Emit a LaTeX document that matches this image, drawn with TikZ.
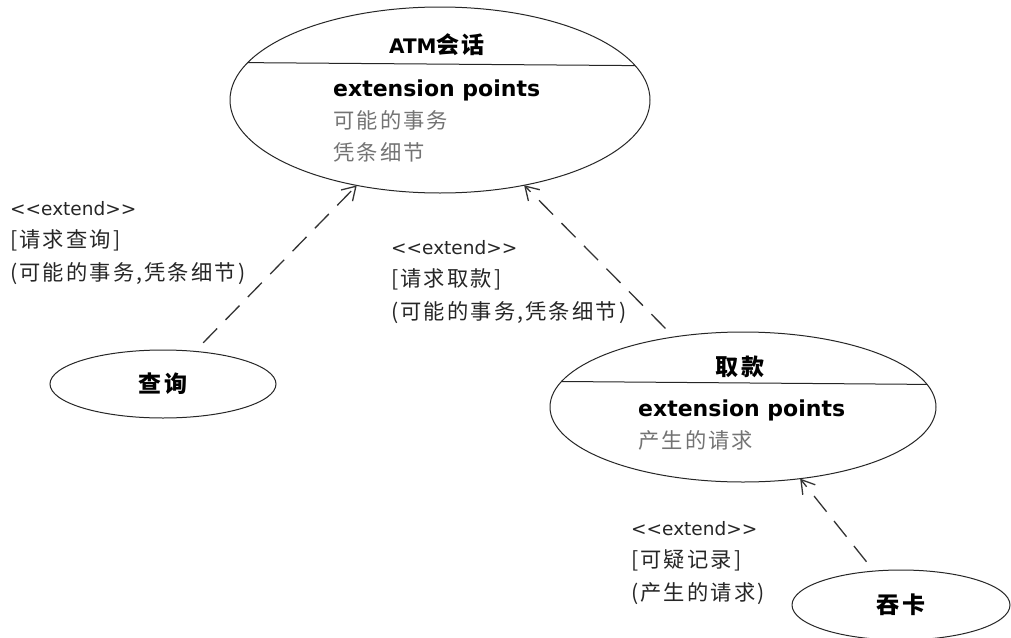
\documentclass[tikz,border=0pt]{standalone}
\usepackage{fontspec}
\usetikzlibrary{arrows.meta,shapes.geometric}
\newfontfamily\latin{DejaVu Sans}
\newfontfamily\cjk{Noto Sans CJK SC}[LetterSpace=10,Scale=1.15]
\newcommand{\zh}[1]{{\cjk #1}}

\begin{document}
\begin{tikzpicture}[x=1pt,y=-1pt,
  usecase/.style={draw=black!85,line width=1pt,ellipse,inner sep=0pt,outer sep=0pt,
    font=\latin\fontsize{20}{24}\selectfont\bfseries},
  title/.style={font=\latin\fontsize{20}{24}\selectfont\bfseries},
  compartment/.style={align=left,anchor=north west,inner sep=0pt,
    font=\latin\fontsize{18.5}{32}\selectfont,text=black!55},
  extendlabel/.style={align=left,anchor=north west,inner sep=0pt,
    font=\latin\fontsize{18.5}{32.5}\selectfont,text=black!85},
  extendline/.style={draw=black!80,line width=1.3pt,dash pattern=on 20pt off 12pt,dash phase=20pt,
    -{Straight Barb[length=13pt,width=16pt,line width=1.3pt]}}]
\path[fill=white,use as bounding box] (0,0) rectangle (1011,637);

\node[usecase,minimum width=420pt,minimum height=186pt] (atm) at (440,100) {};
\node[usecase,minimum width=226pt,minimum height=68pt] (query) at (163,384) {\zh{查询}};
\node[usecase,minimum width=386pt,minimum height=150pt] (withdraw) at (743,407) {};
\node[usecase,minimum width=218pt,minimum height=70pt] (swallow) at (901,605) {\zh{吞卡}};

\draw[draw=black!85,line width=1pt] (atm.169.13) -- (atm.10.87);
\draw[draw=black!85,line width=1pt] (withdraw.172.52) -- (withdraw.7.48);

\node[title] (atmtitle) at (437,45) {ATM\zh{会话}};
\node[title] (withdrawtitle) at (740,367) {\zh{取款}};

\node[compartment] (atmpoints) at (333,80) {{\bfseries\color{black}\fontsize{22}{32}\selectfont extension points}\\
  \zh{可能的事务}\\ \zh{凭条细节}};
\node[compartment] (withdrawpoints) at (638,400) {{\bfseries\color{black}\fontsize{22}{32}\selectfont extension points}\\
  \zh{产生的请求}};

\draw[extendline] (query) -- (atm);
\draw[extendline] (withdraw) -- (atm);
\draw[extendline] (swallow) -- (withdraw);

\node[extendlabel] (querylabel) at (10,201) {<<extend>>\\ \zh{[请求查询]}\\ \zh{(可能的事务,凭条细节)}};
\node[extendlabel] (withdrawlabel) at (391,240) {<<extend>>\\ \zh{[请求取款]}\\ \zh{(可能的事务,凭条细节)}};
\node[extendlabel] (swallowlabel) at (631,521) {<<extend>>\\ \zh{[可疑记录]}\\ \zh{(产生的请求)}};
\end{tikzpicture}
\end{document}
